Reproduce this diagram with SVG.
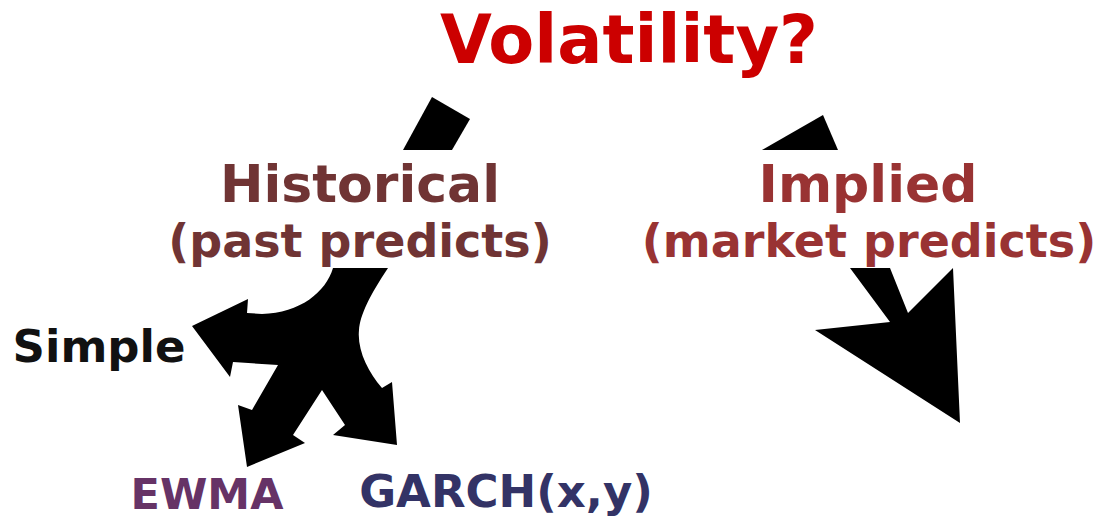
<svg xmlns="http://www.w3.org/2000/svg" width="1100" height="519" viewBox="0 0 1100 519">
<style>
.t{font-family:"DejaVu Sans","Liberation Sans",sans-serif;font-weight:bold;text-anchor:middle}
.arr{fill:#000;stroke:none}
</style>
<rect width="1100" height="519" fill="#fff"/>
<g id="connectors">
<polygon class="arr" points="432,97 470,119 452,150 403,150"/>
<polygon class="arr" points="762,150 823,115 838,150"/>
<path class="arr" d="M333 268 C326 292 300 313 262 314 L247 313 L248 299 L192 326 L230 377 L233 362 L278 365 L252 410 L238 405 L247 467 L305 443 L293 435 L322 390 L345 425 L333 435 L397 445 L392 382 L382 388 C368 372 357 350 359 330 C360 315 370 295 388 268 Z"/>
<path class="arr" d="M850 268 L890 268 L908 313 L953 268 L960 423 L815 330 L890 322 Z"/>
</g>
<g id="volatility"><text class="t" x="629" y="63" font-size="67" fill="#cc0000">Volatility?</text></g>
<g id="historical"><text class="t" x="360" y="202" font-size="52" fill="#703434">Historical</text><text class="t" x="360" y="257" font-size="46" fill="#703434">(past predicts)</text></g>
<g id="implied"><text class="t" x="868" y="202" font-size="52" fill="#993333">Implied</text><text class="t" x="869" y="257" font-size="46" fill="#993333">(market predicts)</text></g>
<g id="simple"><text class="t" x="99" y="362" font-size="45" fill="#111">Simple</text></g>
<g id="ewma"><text class="t" x="207" y="509" font-size="43" fill="#663366">EWMA</text></g>
<g id="garch"><text class="t" x="506" y="507" font-size="45" fill="#333366">GARCH(x,y)</text></g>
</svg>
